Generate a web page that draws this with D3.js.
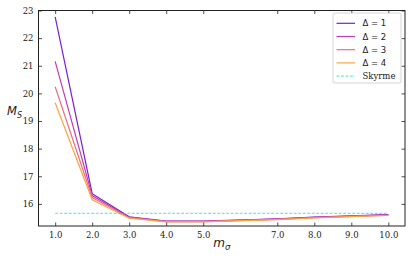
<!DOCTYPE html>
<html>
<head>
<meta charset="utf-8">
<style>
  body { margin: 0; background: #fff; }
  text { fill: #222; }
</style>
</head>
<body>
<script src="https://cdn.jsdelivr.net/npm/d3@7/dist/d3.min.js"></script>
<script>
// data
let mSigma = [1, 2, 3, 4, 5, 7, 8, 9, 10];
let delta1 = [22.77, 16.37, 15.53, 15.38, 15.38, 15.46, 15.52, 15.57, 15.61];
let delta2 = [21.16, 16.30, 15.51, 15.37, 15.37, 15.45, 15.51, 15.56, 15.60];
let delta3 = [20.24, 16.23, 15.50, 15.36, 15.36, 15.44, 15.50, 15.55, 15.59];
let delta4 = [19.66, 16.15, 15.48, 15.35, 15.35, 15.43, 15.49, 15.54, 15.58];
let skyrme = 15.66;
let seriesNames = ["Δ = 1", "Δ = 2", "Δ = 3", "Δ = 4"];
let xTicks = [1, 2, 3, 4, 5, 7, 8, 9, 10];
let yTicks = [16, 17, 18, 19, 20, 21, 22, 23];

let colors = ["#7a1fd2", "#c03cb0", "#ec6f86", "#fca43f"];
let skyColor = "#22cccc";

let width = 415, height = 260;
let svg = d3.select("body").append("svg").attr("width", width).attr("height", height);

let margin = { left: 38.5, right: 10, top: 10.5, bottom: 34 };
let x = d3.scaleLinear().domain([0.55, 10.45]).range([margin.left, width - margin.right]);
let y = d3.scaleLinear().domain([15.2, 23]).range([height - margin.bottom, margin.top]);

let serif = "'DejaVu Serif', serif";

// lines
let line = d3.line().x((d, i) => x(mSigma[i])).y(d => y(d));
[delta1, delta2, delta3, delta4].forEach((s, k) => {
  svg.append("path")
    .attr("d", line(s))
    .attr("fill", "none")
    .attr("stroke", colors[k])
    .attr("stroke-width", 1.2);
});

svg.append("line")
  .attr("x1", x(1)).attr("x2", x(10))
  .attr("y1", y(skyrme)).attr("y2", y(skyrme))
  .attr("stroke", skyColor).attr("stroke-opacity", 0.8)
  .attr("stroke-width", 0.9)
  .attr("stroke-dasharray", "3,1.5");

// axes, ticks inward on all sides
let xB = d3.axisBottom(x).tickValues(xTicks).tickFormat(d3.format(".1f")).tickSizeInner(-3.5).tickSizeOuter(0).tickPadding(6);
let xT = d3.axisTop(x).tickValues(xTicks).tickFormat("").tickSizeInner(-3.5).tickSizeOuter(0);
let yL = d3.axisLeft(y).tickValues(yTicks).tickFormat(d3.format("d")).tickSizeInner(-3.5).tickSizeOuter(0).tickPadding(5);
let yR = d3.axisRight(y).tickValues(yTicks).tickFormat("").tickSizeInner(-3.5).tickSizeOuter(0);

let gxB = svg.append("g").attr("transform", "translate(0," + (height - margin.bottom) + ")").call(xB);
let gxT = svg.append("g").attr("transform", "translate(0," + margin.top + ")").call(xT);
let gyL = svg.append("g").attr("transform", "translate(" + margin.left + ",0)").call(yL);
let gyR = svg.append("g").attr("transform", "translate(" + (width - margin.right) + ",0)").call(yR);

[gxB, gxT, gyL, gyR].forEach(g => {
  g.select(".domain").remove();
  g.selectAll(".tick line").attr("stroke", "#222").attr("stroke-width", 0.8);
  g.selectAll("text").attr("font-family", serif).attr("font-size", 8.5).attr("fill", "#222");
});

// frame
svg.append("rect")
  .attr("x", margin.left).attr("y", margin.top)
  .attr("width", width - margin.left - margin.right)
  .attr("height", height - margin.top - margin.bottom)
  .attr("fill", "none").attr("stroke", "#222").attr("stroke-width", 1);

// axis labels
let xl = svg.append("text")
  .attr("x", (margin.left + width - margin.right) / 2)
  .attr("y", 247)
  .attr("text-anchor", "middle")
  .attr("font-family", "'DejaVu Sans', sans-serif")
  .attr("font-style", "italic")
  .attr("font-size", 12);
xl.append("tspan").text("m");
xl.append("tspan").attr("font-size", 8.5).attr("dy", 2.5).text("σ");

let yl = svg.append("text")
  .attr("x", 7)
  .attr("y", 115)
  .attr("font-family", "'DejaVu Sans', sans-serif")
  .attr("font-style", "italic")
  .attr("font-size", 11.5);
yl.append("tspan").text("M");
yl.append("tspan").attr("font-size", 8).attr("dy", 2.5).text("S");

// legend
let lg = svg.append("g").attr("transform", "translate(333,13)");
lg.append("rect")
  .attr("width", 68).attr("height", 70).attr("rx", 2)
  .attr("fill", "#fff").attr("fill-opacity", 0.8)
  .attr("stroke", "#ccc").attr("stroke-width", 0.8);
let legendItems = seriesNames.concat(["Skyrme"]);
legendItems.forEach((name, i) => {
  let yy = 10.3 + i * 13.2;
  let ln = lg.append("line")
    .attr("x1", 3.5).attr("x2", 22).attr("y1", yy).attr("y2", yy)
    .attr("stroke-width", i < 4 ? 1.2 : 0.9);
  if (i < 4) ln.attr("stroke", colors[i]);
  else ln.attr("stroke", skyColor).attr("stroke-opacity", 0.8).attr("stroke-dasharray", "3,1.5");
  lg.append("text")
    .attr("x", 29.5).attr("y", yy + 3)
    .attr("font-family", i < 4 ? "'DejaVu Sans', sans-serif" : serif)
    .attr("font-size", 8.5)
    .text(name);
});
</script>
</body>
</html>
